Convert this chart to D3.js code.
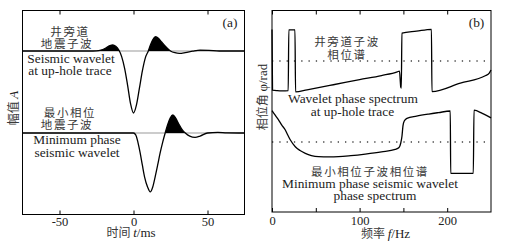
<!DOCTYPE html>
<html>
<head>
<meta charset="utf-8">
<script src="https://cdn.jsdelivr.net/npm/d3@7"></script>
<style>
body { margin: 0; background: #fff; }
svg text { fill: #222; }
.en { font-family: "Liberation Serif", "DejaVu Serif", serif; }
.zh { font-family: "Noto Sans CJK SC", sans-serif; fill: #3a3a3a; }
</style>
</head>
<body>
<svg id="chart" width="517" height="243"></svg>
<script>
// wavelets: [t (ms), amplitude (normalised)]
const upholeWavelet = [
    [-75, 0], [-30, 0], [-25, 0.003], [-22, 0.015], [-19, 0.045], [-16, 0.085], [-14, 0.097],
    [-12, 0.075], [-10, 0.02], [-8, -0.09], [-6, -0.28], [-4, -0.55], [-2, -0.85], [0, -1.0],
    [2, -0.87], [4, -0.6], [6, -0.32], [8, -0.11], [10, 0.0], [11.5, 0.1], [13, 0.18], [15, 0.23],
    [17, 0.2], [19, 0.145], [21, 0.09], [23, 0.04], [25, 0.0], [28, -0.028], [31, -0.037],
    [35, -0.025], [40, -0.002], [45, 0.014], [51, 0.01], [58, 0.0], [75, 0]
];
const minPhaseWavelet = [
    [-75, 0], [0, 0], [1.5, -0.03], [3, -0.15], [4.5, -0.32], [6, -0.52], [7.5, -0.71], [9.5, -0.87],
    [11.3, -0.95], [13, -0.87], [14.6, -0.71], [16.3, -0.52], [18, -0.32], [19.7, -0.15], [21.4, 0],
    [23, 0.13], [24.8, 0.24], [26.6, 0.29], [28.5, 0.24], [30.5, 0.15], [33, 0.05], [35, 0],
    [38, -0.05], [41.6, -0.07], [45, -0.05], [50, 0], [57, 0.01], [63, 0.003], [75, 0]
];

// phase spectra: [f (Hz), phase (rad)]
const upholePhase = [
    [0, 3.14], [0.6, -2.9], [6, -2.96], [12, -2.98], [18.5, -2.95], [19.2, 3.1], [26.2, 3.1],
    [26.9, -3.08], [40, -2.87], [70, -2.37], [100, -1.86], [125, -1.45], [143, -1.08],
    [145.5, -1.0], [147, -2.6], [147.6, -2.7], [148.3, 2.78], [165, 2.97], [182, 3.16],
    [182.6, -3.05], [215, -2.2], [244, -1.45], [248, -1.2], [250, -0.9]
];
const minPhasePhase = [
    [0, 3.14], [3, 2.75], [7.6, 2.19], [11, 1.7], [15.2, 1.2], [18, 0.7], [21, 0.2], [26.6, -0.47],
    [32, -0.85], [38, -1.13], [45, -1.35], [53, -1.46], [65, -1.48], [76, -1.46], [90, -1.36],
    [106.5, -1.2], [125, -0.98], [140.7, -0.73], [145, -0.55], [147, -0.1], [148.4, 0.6],
    [149.5, 1.6], [151, 2.1], [154, 2.36], [165, 2.58], [179, 2.79], [190, 2.93], [203.5, 3.09],
    [204, -3.12], [229.8, -3.12], [230.6, 3.17], [240, 2.86], [250, 2.4]
];

const timeDomain = [-75, 75];
const timeTicks = [-50, 0, 50];
const freqDomain = [0, 250];
const freqTicks = [0, 50, 100, 150, 200];
const freqLabels = [0, 100, 200];

const svg = d3.select('#chart');

const panelA = { left: 22.5, right: 244.5, top: 10.5, bottom: 214.5 };
const panelB = { left: 272, right: 491, top: 10.5, bottom: 212 };

// ---- scales
const xA = d3.scaleLinear().domain(timeDomain).range([panelA.left, panelA.right]);
const yUp = d3.scaleLinear().domain([-1, 0]).range([51 + 62, 51]);
const yLow = d3.scaleLinear().domain([-1, 0]).range([133 + 62, 133]);

const xB = d3.scaleLinear().domain(freqDomain).range([panelB.left, panelB.right]);
const yPhUp = d3.scaleLinear().domain([-Math.PI, Math.PI]).range([61 + 31.5, 61 - 31.5]);
const yPhLow = d3.scaleLinear().domain([-Math.PI, Math.PI]).range([142 + 31.5, 142 - 31.5]);

// ---- helpers
function label(x, y, parts, opts) {
    opts = opts || {};
    const t = svg.append('text')
        .attr('text-anchor', opts.anchor || 'middle')
        .attr('font-size', opts.size || 13);
    if (opts.rotate) {
        t.attr('transform', `translate(${x},${y}) rotate(-90)`).attr('dy', '0.35em');
    } else {
        t.attr('x', x).attr('y', y);
    }
    parts.forEach(p => {
        t.append('tspan')
            .attr('class', p.zh ? 'zh' : 'en')
            .attr('font-style', p.it ? 'italic' : null)
            .attr('font-size', p.size || null)
            .attr('letter-spacing', p.ls || null)
            .text(p.t);
    });
    return t;
}

function styleAxis(g) {
    g.select('.domain').remove();
    g.selectAll('.tick line').attr('stroke', '#000');
    g.selectAll('.tick text')
        .attr('class', 'en')
        .attr('font-size', 12.5)
        .attr('fill', '#222');
}

// ---- panel (a)
svg.append('g')
    .attr('transform', `translate(0,${panelA.bottom})`)
    .call(d3.axisBottom(xA).tickValues(timeTicks).tickSize(-4).tickPadding(3).tickFormat(d => String(d)))
    .call(styleAxis);
svg.append('g')
    .attr('transform', `translate(0,${panelA.top})`)
    .call(d3.axisTop(xA).tickValues(timeTicks).tickSize(-4).tickFormat(''))
    .call(styleAxis);

[[yUp, upholeWavelet, 'clipUp'], [yLow, minPhaseWavelet, 'clipLow']].forEach(([ys, data, id]) => {
    svg.append('clipPath').attr('id', id)
        .append('rect')
        .attr('x', panelA.left).attr('y', panelA.top)
        .attr('width', panelA.right - panelA.left)
        .attr('height', ys(0) - panelA.top);

    svg.append('line')
        .attr('x1', panelA.left).attr('x2', panelA.right)
        .attr('y1', ys(0)).attr('y2', ys(0))
        .attr('stroke', '#999').attr('stroke-width', 1);

    svg.append('path')
        .datum(data)
        .attr('clip-path', `url(#${id})`)
        .attr('fill', '#000')
        .attr('d', d3.area().curve(d3.curveMonotoneX)
            .x(d => xA(d[0])).y0(ys(0)).y1(d => ys(d[1])));

    svg.append('path')
        .datum(data)
        .attr('fill', 'none')
        .attr('stroke', '#000')
        .attr('stroke-width', 1.3)
        .attr('d', d3.line().curve(d3.curveMonotoneX).x(d => xA(d[0])).y(d => ys(d[1])));
});

svg.append('rect')
    .attr('x', panelA.left).attr('y', panelA.top)
    .attr('width', panelA.right - panelA.left).attr('height', panelA.bottom - panelA.top)
    .attr('fill', 'none').attr('stroke', '#000').attr('stroke-width', 1);

// ---- panel (b)
svg.append('g')
    .attr('transform', `translate(0,${panelB.bottom})`)
    .call(d3.axisBottom(xB).tickValues(freqTicks).tickSize(-4).tickPadding(4)
        .tickFormat(d => freqLabels.includes(d) ? String(d) : ''))
    .call(styleAxis);
svg.append('g')
    .attr('transform', `translate(0,${panelB.top})`)
    .call(d3.axisTop(xB).tickValues(freqTicks).tickSize(-4).tickFormat(''))
    .call(styleAxis);

[[yPhUp, upholePhase], [yPhLow, minPhasePhase]].forEach(([ys, data]) => {
    svg.append('line')
        .attr('x1', panelB.left).attr('x2', panelB.right)
        .attr('y1', ys(0)).attr('y2', ys(0))
        .attr('stroke', '#444').attr('stroke-width', 1.3)
        .attr('stroke-dasharray', '1.3,6');

    svg.append('path')
        .datum(data)
        .attr('fill', 'none')
        .attr('stroke', '#000')
        .attr('stroke-width', 1.3)
        .attr('d', d3.line().curve(d3.curveMonotoneX).x(d => xB(d[0])).y(d => ys(d[1])));
});

svg.append('rect')
    .attr('x', panelB.left).attr('y', panelB.top)
    .attr('width', panelB.right - panelB.left).attr('height', panelB.bottom - panelB.top)
    .attr('fill', 'none').attr('stroke', '#000').attr('stroke-width', 1);

// ---- texts, panel (a)
const zhA = { size: 11.5, ls: 1.6 };
label(70, 35.5, [{ t: '井旁道', zh: true, ...zhA }]);
label(67, 47.5, [{ t: '地震子波', zh: true, ...zhA }]);
label(71, 63, [{ t: 'Seismic wavelet' }], { size: 13.4 });
label(70, 75, [{ t: 'at up-hole trace' }], { size: 13.4 });
label(230, 27, [{ t: '(a)' }], { size: 13.4 });
label(70, 117, [{ t: '最小相位', zh: true, ...zhA }]);
label(67, 128.5, [{ t: '地震子波', zh: true, ...zhA }]);
label(77, 143.5, [{ t: 'Minimum phase' }], { size: 13.4 });
label(77, 156.5, [{ t: 'seismic wavelet' }], { size: 13.4 });

label(131, 237, [{ t: '时间 ', zh: true, size: 12 }, { t: 't', it: true }, { t: '/ms' }], { size: 13 });
label(13, 108, [{ t: '幅值 ', zh: true, size: 12 }, { t: 'A', it: true }], { size: 13, rotate: true });

// ---- texts, panel (b)
label(347, 45.5, [{ t: '井旁道子波', zh: true, ...zhA }]);
label(347, 58.5, [{ t: '相位谱', zh: true, ...zhA }]);
label(353, 103, [{ t: 'Wavelet phase spectrum' }], { size: 13.4 });
label(352.5, 116, [{ t: 'at up-hole trace' }], { size: 13.4 });
label(476.5, 27, [{ t: '(b)' }], { size: 13.4 });
label(370, 175.5, [{ t: '最小相位子波相位谱', zh: true, ...zhA }]);
label(370, 187.5, [{ t: 'Minimum phase seismic wavelet' }], { size: 13.4 });
label(375, 200, [{ t: 'phase spectrum' }], { size: 13.4 });

label(385.5, 237.5, [{ t: '频率 ', zh: true, size: 12 }, { t: 'f', it: true }, { t: '/Hz' }], { size: 13 });
label(262, 97, [{ t: '相位角 ', zh: true, size: 12 }, { t: 'φ' }, { t: '/rad' }], { size: 13, rotate: true });
</script>
</body>
</html>
